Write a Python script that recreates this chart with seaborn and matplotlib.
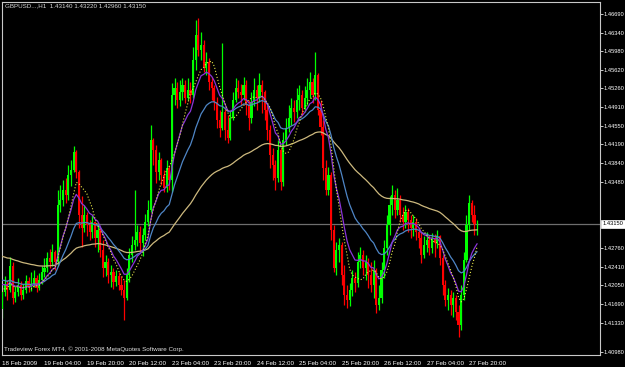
import numpy as np
import pandas as pd
import matplotlib
matplotlib.use("Agg")
import matplotlib.pyplot as plt
import seaborn as sns

# ---------------- data (GBPUSD H1, 18 Feb 12:00 .. 27 Feb 23:00) ----------------
header_text = "GBPUSD...,H1  1.43140 1.43220 1.42960 1.43150"
copyright_text = "Tradeview Forex MT4, \u00a9 2001-2008 MetaQuotes Software Corp."

first_open = 1.4171
close = [
    1.4200, 1.4213, 1.4203, 1.4244, 1.4190, 1.4200, 1.4212, 1.4195, 1.4203, 1.4219,
    1.4208, 1.4213, 1.4224, 1.4207, 1.4220, 1.4234, 1.4240, 1.4257, 1.4251, 1.4268,
    1.4251, 1.4347, 1.4355, 1.4372, 1.4364, 1.4398, 1.4406, 1.4436, 1.4403, 1.4330,
    1.4308, 1.4330, 1.4313, 1.4301, 1.4318, 1.4291, 1.4305, 1.4271, 1.4241, 1.4251,
    1.4229, 1.4234, 1.4217, 1.4227, 1.4212, 1.4203, 1.4190, 1.4229, 1.4262, 1.4279,
    1.4288, 1.4301, 1.4283, 1.4296, 1.4318, 1.4339, 1.4457, 1.4440, 1.4403, 1.4423,
    1.4398, 1.4376, 1.4409, 1.4389, 1.4533, 1.4545, 1.4524, 1.4538, 1.4550, 1.4528,
    1.4541, 1.4533, 1.4592, 1.4634, 1.4609, 1.4617, 1.4578, 1.4589, 1.4555, 1.4545,
    1.4521, 1.4491, 1.4477, 1.4504, 1.4474, 1.4460, 1.4494, 1.4524, 1.4545, 1.4538,
    1.4533, 1.4550, 1.4516, 1.4494, 1.4521, 1.4541, 1.4528, 1.4550, 1.4538, 1.4507,
    1.4474, 1.4431, 1.4414, 1.4393, 1.4440, 1.4386, 1.4457, 1.4477, 1.4494, 1.4511,
    1.4504, 1.4524, 1.4533, 1.4511, 1.4528, 1.4541, 1.4555, 1.4533, 1.4567, 1.4507,
    1.4479, 1.4409, 1.4372, 1.4398, 1.4305, 1.4241, 1.4271, 1.4279, 1.4229, 1.4195,
    1.4186, 1.4203, 1.4224, 1.4215, 1.4251, 1.4262, 1.4241, 1.4251, 1.4229, 1.4212,
    1.4237, 1.4178, 1.4190, 1.4237, 1.4274, 1.4313, 1.4347, 1.4364, 1.4339, 1.4355,
    1.4330, 1.4318, 1.4335, 1.4322, 1.4308, 1.4318, 1.4301, 1.4291, 1.4262, 1.4279,
    1.4288, 1.4274, 1.4291, 1.4283, 1.4295, 1.4257, 1.4212, 1.4186, 1.4195, 1.4178,
    1.4190, 1.4166, 1.4144, 1.4195, 1.4254, 1.4313, 1.4350, 1.4330, 1.4314, 1.4315,
]
high = [
    1.4215, 1.4227, 1.4220, 1.4259, 1.4251, 1.4210, 1.4224, 1.4219, 1.4213, 1.4229,
    1.4225, 1.4234, 1.4237, 1.4229, 1.4232, 1.4244, 1.4257, 1.4268, 1.4273, 1.4281,
    1.4271, 1.4372, 1.4381, 1.4389, 1.4393, 1.4415, 1.4423, 1.4447, 1.4440, 1.4406,
    1.4362, 1.4347, 1.4335, 1.4322, 1.4330, 1.4313, 1.4317, 1.4308, 1.4288, 1.4262,
    1.4257, 1.4246, 1.4241, 1.4237, 1.4234, 1.4227, 1.4220, 1.4241, 1.4274, 1.4295,
    1.4372, 1.4313, 1.4311, 1.4308, 1.4332, 1.4355, 1.4482, 1.4460, 1.4448, 1.4436,
    1.4426, 1.4406, 1.4423, 1.4415, 1.4553, 1.4562, 1.4555, 1.4558, 1.4562, 1.4558,
    1.4562, 1.4555, 1.4614, 1.4659, 1.4663, 1.4639, 1.4626, 1.4605, 1.4595, 1.4563,
    1.4550, 1.4529, 1.4507, 1.4621, 1.4511, 1.4499, 1.4507, 1.4538, 1.4562, 1.4558,
    1.4551, 1.4563, 1.4558, 1.4524, 1.4538, 1.4562, 1.4550, 1.4570, 1.4558, 1.4541,
    1.4516, 1.4482, 1.4443, 1.4423, 1.4457, 1.4443, 1.4470, 1.4494, 1.4516, 1.4528,
    1.4524, 1.4545, 1.4550, 1.4541, 1.4548, 1.4562, 1.4572, 1.4562, 1.4605, 1.4570,
    1.4524, 1.4491, 1.4423, 1.4411, 1.4403, 1.4313, 1.4284, 1.4291, 1.4284, 1.4246,
    1.4212, 1.4215, 1.4237, 1.4234, 1.4268, 1.4276, 1.4271, 1.4262, 1.4257, 1.4251,
    1.4254, 1.4241, 1.4212, 1.4251, 1.4288, 1.4330, 1.4362, 1.4381, 1.4372, 1.4376,
    1.4364, 1.4344, 1.4347, 1.4342, 1.4330, 1.4330, 1.4325, 1.4308, 1.4301, 1.4295,
    1.4301, 1.4296, 1.4299, 1.4298, 1.4305, 1.4296, 1.4262, 1.4220, 1.4207, 1.4203,
    1.4200, 1.4195, 1.4178, 1.4212, 1.4268, 1.4330, 1.4364, 1.4355, 1.4347, 1.4322,
]
low = [
    1.4156, 1.4193, 1.4186, 1.4200, 1.4180, 1.4183, 1.4193, 1.4186, 1.4188, 1.4198,
    1.4200, 1.4202, 1.4208, 1.4200, 1.4203, 1.4213, 1.4225, 1.4234, 1.4241, 1.4244,
    1.4237, 1.4244, 1.4335, 1.4345, 1.4350, 1.4355, 1.4379, 1.4403, 1.4393, 1.4308,
    1.4276, 1.4301, 1.4295, 1.4288, 1.4291, 1.4276, 1.4268, 1.4259, 1.4225, 1.4227,
    1.4215, 1.4208, 1.4205, 1.4210, 1.4203, 1.4195, 1.4153, 1.4186, 1.4217, 1.4251,
    1.4271, 1.4278, 1.4268, 1.4261, 1.4288, 1.4311, 1.4335, 1.4415, 1.4384, 1.4389,
    1.4381, 1.4369, 1.4369, 1.4372, 1.4369, 1.4516, 1.4511, 1.4514, 1.4524, 1.4519,
    1.4524, 1.4519, 1.4528, 1.4575, 1.4599, 1.4592, 1.4572, 1.4567, 1.4541, 1.4524,
    1.4507, 1.4477, 1.4462, 1.4474, 1.4457, 1.4452, 1.4457, 1.4491, 1.4521, 1.4528,
    1.4516, 1.4524, 1.4499, 1.4474, 1.4485, 1.4514, 1.4507, 1.4521, 1.4502, 1.4491,
    1.4457, 1.4409, 1.4389, 1.4372, 1.4386, 1.4372, 1.4379, 1.4448, 1.4470, 1.4482,
    1.4487, 1.4494, 1.4507, 1.4499, 1.4504, 1.4516, 1.4528, 1.4519, 1.4524, 1.4499,
    1.4465, 1.4389, 1.4364, 1.4364, 1.4288, 1.4234, 1.4229, 1.4251, 1.4212, 1.4178,
    1.4173, 1.4176, 1.4193, 1.4200, 1.4208, 1.4241, 1.4229, 1.4220, 1.4207, 1.4200,
    1.4190, 1.4164, 1.4170, 1.4181, 1.4224, 1.4262, 1.4296, 1.4330, 1.4325, 1.4330,
    1.4318, 1.4305, 1.4308, 1.4301, 1.4291, 1.4295, 1.4288, 1.4274, 1.4249, 1.4257,
    1.4268, 1.4262, 1.4266, 1.4259, 1.4274, 1.4246, 1.4195, 1.4176, 1.4170, 1.4161,
    1.4158, 1.4153, 1.4124, 1.4136, 1.4186, 1.4251, 1.4305, 1.4318, 1.4296, 1.4296,
]
last_price = 1.4315

# moving averages: (period, starting level read at the left edge)
ma_fast_period = 8          # yellow dotted SMA
ma_purple = (10, 1.4215)    # EMA
ma_blue = (21, 1.4222)      # EMA
ma_tan = (70, 1.4262)       # EMA

x_tick_every = 16
x_tick_labels = ["18 Feb 2009", "19 Feb 04:00", "19 Feb 20:00", "20 Feb 12:00",
                 "23 Feb 04:00", "23 Feb 20:00", "24 Feb 12:00", "25 Feb 04:00",
                 "25 Feb 20:00", "26 Feb 12:00", "27 Feb 04:00", "27 Feb 20:00"]
y_tick_labels = ["1.46690", "1.46340", "1.45980", "1.45620", "1.45260", "1.44910",
                 "1.44550", "1.44190", "1.43840", "1.43480", "1.42760", "1.42410",
                 "1.42050", "1.41690", "1.41330", "1.40980"]
y_tick_prices = [1.46690, 1.46380, 1.46065, 1.45749, 1.45440, 1.45124, 1.44809,
                 1.44494, 1.44178, 1.43862, 1.42748, 1.42427, 1.42117, 1.41797,
                 1.41481, 1.40981]

# ---------------- build ----------------
c = np.array(close)
h = np.array(high)
l = np.array(low)
o = np.r_[first_open, c[:-1]]
hi = np.maximum.reduce([h, o, c])
lo = np.minimum.reduce([l, o, c])
idx = np.arange(len(c))

def ema(values, span, seed):
    s = pd.Series(np.r_[seed, values])
    return s.ewm(span=span, adjust=False).mean().to_numpy()[1:]

df = pd.DataFrame({
    "i": idx,
    "fast": pd.Series(c).rolling(ma_fast_period, min_periods=1).mean(),
    "purple": ema(c, *ma_purple),
    "blue": ema(c, *ma_blue),
    "tan": ema(c, *ma_tan),
})

sns.set_style("dark")
plt.rcParams["font.family"] = ["Liberation Sans", "DejaVu Sans"]

W, H = 625, 367
fig = plt.figure(figsize=(W / 100, H / 100), dpi=100, facecolor="black")
ax = fig.add_axes([2 / W, 12 / H, 598 / W, 353 / H])
ax.set_facecolor("black")

frame_col = "#C8C8C8"
fs = 4.5
fs_y = 4.15

# current price line
ax.axhline(last_price, color="#6E6E6E", lw=0.9, zorder=1)

up = c >= o
cols = np.where(up, "#00FF00", "#FF0000")
ax.vlines(idx, lo, hi, colors=cols, lw=0.9, zorder=2)
body_bottom = np.minimum(o, c)
body_h = np.maximum(np.abs(c - o), 0.00007)
ax.bar(idx, body_h, bottom=body_bottom, width=0.8, color=cols, linewidth=0, zorder=3)

sns.lineplot(data=df, x="i", y="tan", ax=ax, color="#CDB97E", lw=0.9, zorder=4, legend=False)
sns.lineplot(data=df, x="i", y="blue", ax=ax, color="#4F86C6", lw=0.9, zorder=4, legend=False)
sns.lineplot(data=df, x="i", y="purple", ax=ax, color="#8A35D8", lw=0.9, zorder=5, legend=False)
sns.lineplot(data=df, x="i", y="fast", ax=ax, color="#E6E64A", lw=0.8, linestyle=(0, (1, 1.8)),
             zorder=6, legend=False)

ax.set_xlim(0.1, 225.3)
ax.set_ylim(1.40935, 1.46898)
ax.set_xlabel("")
ax.set_ylabel("")
ax.grid(False)

for sp in ax.spines.values():
    sp.set_visible(True)
    sp.set_color(frame_col)
    sp.set_linewidth(0.8)

# x ticks
ax.set_xticks(idx[::x_tick_every][: len(x_tick_labels)])
ax.set_xticklabels(x_tick_labels, ha="left")
ax.tick_params(axis="x", colors=frame_col, labelcolor="white", length=3, width=0.7,
               pad=1.5, labelsize=fs, direction="out")

# y ticks on the right
ax.yaxis.tick_right()
ax.set_yticks(y_tick_prices)
ax.set_yticklabels(y_tick_labels)
ax.tick_params(axis="y", colors=frame_col, labelcolor="white", length=2, width=0.7,
               pad=0.5, labelsize=fs_y, direction="out")

# current price box
ax.annotate(f"{last_price:.5f}", xy=(1, last_price), xycoords=("axes fraction", "data"),
            xytext=(1.8, 0), textcoords="offset points", va="center", ha="left",
            fontsize=fs_y, color="black", annotation_clip=False,
            bbox=dict(boxstyle="square,pad=0.2", fc="white", ec="white", lw=0.5))

fig.text(5 / W, 1 - 6 / H, header_text, color="#D8D8D8", fontsize=fs, va="center", ha="left")
fig.text(4 / W, 1 - 349 / H, copyright_text, color="#E0E0E0", fontsize=fs, va="center", ha="left")

fig.savefig("out.png", dpi=100, facecolor="black")
